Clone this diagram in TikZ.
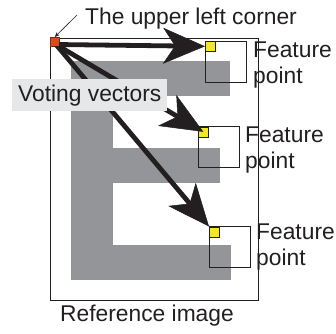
\documentclass[tikz,border=0pt]{standalone}
\usepackage{fontspec}
\setmainfont{Liberation Sans}
\usetikzlibrary{arrows.meta}
\definecolor{egray}{RGB}{147,149,152}
\definecolor{lbox}{RGB}{230,231,232}
\definecolor{ink}{RGB}{35,31,32}
\definecolor{fyellow}{RGB}{245,230,40}
\definecolor{cred}{RGB}{215,75,30}
\begin{document}
\begin{tikzpicture}[x=1pt,y=-1pt,
  txt/.style={inner sep=0pt, text=ink, font=\fontsize{22.8}{25.5}\selectfont},
  fbox/.style={draw=ink, line width=1.4pt, minimum size=41pt, inner sep=0pt, anchor=north west},
  fpt/.style={fill=fyellow, draw=ink, line width=0.6pt, minimum size=10pt, inner sep=0pt, anchor=north west},
  vote/.style={draw=ink, line width=4.8pt, -{Stealth[length=42pt,width=36pt,inset=12pt,line width=0.5pt]}}
]
\useasboundingbox (0,0) rectangle (336,333);
% reference image frame
\node[draw=ink, line width=1pt, minimum width=208pt, minimum height=262pt, anchor=north west, inner sep=0pt] (ref) at (49.5,37.5) {};
% letter E
\fill[egray] (71,61) rectangle (230,96);
\fill[egray] (71,61) rectangle (113,280);
\fill[egray] (71,148) rectangle (220,183);
\fill[egray] (71,245) rectangle (231,280);
% feature windows
\node[fbox] (w1) at (204.5,40.5) {};
\node[fbox] (w2) at (197.5,126) {};
\node[fbox] (w3) at (208.5,226) {};
\node[fpt] (f1) at (205,41) {};
\node[fpt] (f2) at (198,126.5) {};
\node[fpt] (f3) at (209,226.5) {};
% upper left corner
\node[fill=cred, draw=cred!60!black, line width=0.5pt, minimum size=9pt, inner sep=0pt, anchor=north west] (ul) at (50,37) {};
\coordinate (o) at (56,44.5);
% voting vectors
\draw[vote] (o) -- (f1.west);
\draw[vote] (o) -- (f2.center);
\draw[vote] (o) -- (f3.north west);
\node[fill=cred, minimum size=8pt, inner sep=0pt, anchor=north west] at (50.5,37.5) {};
% labels
\node[txt, anchor=base west] (t1) at (85,24.5) {The upper left corner};
\coordinate (c0) at (77,15);
\draw[ink, line width=0.6pt, -{Stealth[length=5pt,width=4pt]}] (c0) -- (ul.north);
\node[txt, fill=lbox, inner xsep=6pt, minimum height=32pt, anchor=north west] (vv) at (12,79) {Voting vectors};
\node[txt, anchor=north west, align=left] (l1) at (253,42) {Feature\\point};
\node[txt, anchor=north west, align=left] (l2) at (245,127) {Feature\\point};
\node[txt, anchor=north west, align=left] (l3) at (256,224) {Feature\\point};
\node[txt, anchor=base west] (rl) at (60,321) {Reference image};
\end{tikzpicture}
\end{document}
